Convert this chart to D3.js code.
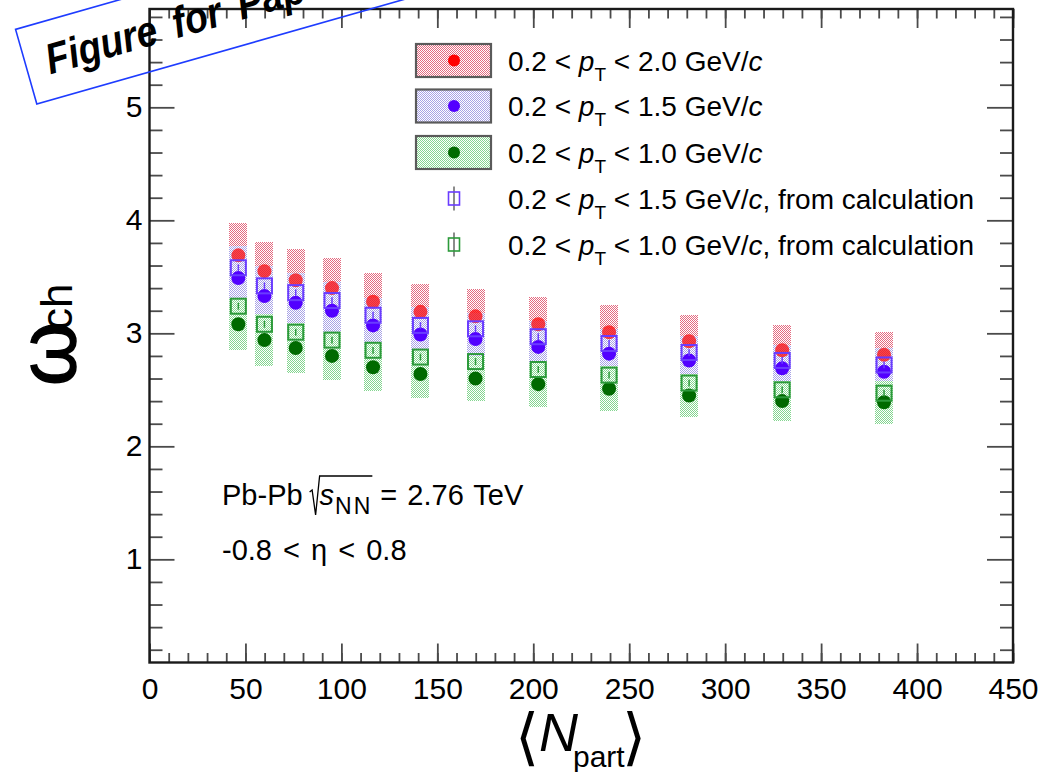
<!DOCTYPE html>
<html>
<head>
<meta charset="utf-8">
<script src="https://cdn.jsdelivr.net/npm/d3@7"></script>
<style>
  body { margin: 0; background: #fff; }
  svg { display: block; }
  text { font-family: "Liberation Sans", Arial, Helvetica, sans-serif; fill: #000; }
</style>
</head>
<body>
<svg id="chart" width="1042" height="772"></svg>
<script>
// <N_part> of the twelve 5%-wide centrality classes
const nPart = [46.3, 59.9, 76.2, 95.1, 116.5, 141.2, 169.9, 202.6, 239.5, 281.2, 329.7, 382.8];

// measured omega_ch with systematic uncertainties
const omega20 = [3.69, 3.55, 3.47, 3.40, 3.28, 3.19, 3.15, 3.08, 3.01, 2.93, 2.85, 2.81];
const sys20   = [0.29, 0.26, 0.28, 0.27, 0.25, 0.25, 0.24, 0.24, 0.24, 0.23, 0.22, 0.20];
const omega15 = [3.49, 3.33, 3.27, 3.20, 3.07, 2.99, 2.95, 2.88, 2.82, 2.76, 2.69, 2.66];
const sys15   = [0.28, 0.27, 0.26, 0.25, 0.24, 0.24, 0.23, 0.23, 0.22, 0.22, 0.21, 0.21];
const omega10 = [3.08, 2.94, 2.87, 2.80, 2.70, 2.64, 2.60, 2.55, 2.51, 2.45, 2.40, 2.39];
const sys10   = [0.23, 0.23, 0.22, 0.21, 0.21, 0.21, 0.20, 0.20, 0.20, 0.19, 0.18, 0.19];

// omega_ch obtained from calculation
const calc15    = [3.58, 3.42, 3.36, 3.29, 3.16, 3.07, 3.04, 2.97, 2.91, 2.83, 2.76, 2.72];
const calc15Err = [0.03, 0.03, 0.03, 0.03, 0.03, 0.03, 0.03, 0.03, 0.03, 0.03, 0.03, 0.03];
const calc10    = [3.24, 3.08, 3.01, 2.94, 2.85, 2.79, 2.75, 2.68, 2.63, 2.56, 2.50, 2.47];
const calc10Err = [0.03, 0.03, 0.03, 0.03, 0.03, 0.03, 0.03, 0.03, 0.03, 0.03, 0.03, 0.03];

// axis ticks
const xMajorTicks = [0, 50, 100, 150, 200, 250, 300, 350, 400, 450];
const xMinorTicks = d3.range(0, 451, 10);
const yMajorTicks = [1, 2, 3, 4, 5];
const yMinorTicks = [0.2, 0.4, 0.6, 0.8, 1.2, 1.4, 1.6, 1.8, 2.2, 2.4, 2.6, 2.8,
                     3.2, 3.4, 3.6, 3.8, 4.2, 4.4, 4.6, 4.8, 5.2, 5.4, 5.6, 5.8];

const svg = d3.select("#chart");
const frame = { left: 149.5, right: 1013, top: 9, bottom: 662.5 };

const x = d3.scaleLinear().domain([0, 450]).range([frame.left, frame.right]);
const y = d3.scaleLinear().domain([0.087, 5.87]).range([frame.bottom, frame.top]);

// stipple fill patterns for the systematic boxes
const defs = svg.append("defs");
function stipple(id, color) {
  const p = defs.append("pattern").attr("id", id)
    .attr("patternUnits", "userSpaceOnUse").attr("width", 2).attr("height", 2);
  p.append("rect").attr("x", 0).attr("y", 0).attr("width", 1).attr("height", 1).attr("fill", color);
  p.append("rect").attr("x", 1).attr("y", 1).attr("width", 1).attr("height", 1).attr("fill", color);
}
stipple("fillRed", "#e46a80");
stipple("fillBlue", "#a8a2e6");
stipple("fillGreen", "#84d690");

const colRed = "#ff0000", colBlue = "#5200ff", colGreen = "#006a00";
const colCalcBlue = "#6a3cff", colCalcGreen = "#2c9a3a";
const fontLabel = "Liberation Sans, Arial, sans-serif";

// ---- axes ----
const axG = svg.append("g").attr("class", "axes");
const tickStroke = "#4a4a4a";

function styleAxis(g) {
  g.select(".domain").remove();
  g.selectAll(".tick line").attr("stroke", tickStroke).attr("stroke-width", 1.8);
}

axG.append("g").attr("transform", `translate(0,${frame.bottom})`)
  .call(d3.axisBottom(x).tickValues(xMinorTicks).tickSize(-9.5).tickFormat(""))
  .call(styleAxis);
axG.append("g").attr("transform", `translate(0,${frame.bottom})`)
  .call(d3.axisBottom(x).tickValues(xMajorTicks).tickSize(-19).tickPadding(15).tickFormat(d3.format("d")))
  .call(styleAxis)
  .call(g => g.selectAll("text").attr("font-size", 30).attr("fill", "#000").attr("font-family", fontLabel));
axG.append("g").attr("transform", `translate(0,${frame.top})`)
  .call(d3.axisTop(x).tickValues(xMinorTicks).tickSize(-9.5).tickFormat(""))
  .call(styleAxis);
axG.append("g").attr("transform", `translate(0,${frame.top})`)
  .call(d3.axisTop(x).tickValues(xMajorTicks).tickSize(-19).tickFormat(""))
  .call(styleAxis);

axG.append("g").attr("transform", `translate(${frame.left},0)`)
  .call(d3.axisLeft(y).tickValues(yMinorTicks).tickSize(-13).tickFormat(""))
  .call(styleAxis);
axG.append("g").attr("transform", `translate(${frame.left},0)`)
  .call(d3.axisLeft(y).tickValues(yMajorTicks).tickSize(-25).tickPadding(7).tickFormat(d3.format("d")))
  .call(styleAxis)
  .call(g => g.selectAll("text").attr("font-size", 30).attr("fill", "#000").attr("font-family", fontLabel));
axG.append("g").attr("transform", `translate(${frame.right},0)`)
  .call(d3.axisRight(y).tickValues(yMinorTicks).tickSize(-13).tickFormat(""))
  .call(styleAxis);
axG.append("g").attr("transform", `translate(${frame.right},0)`)
  .call(d3.axisRight(y).tickValues(yMajorTicks).tickSize(-26).tickFormat(""))
  .call(styleAxis);

svg.append("rect")
  .attr("x", frame.left).attr("y", frame.top)
  .attr("width", frame.right - frame.left).attr("height", frame.bottom - frame.top)
  .attr("fill", "none").attr("stroke", "#1a1a1a").attr("stroke-width", 2.4);

// ---- data ----
const plot = svg.append("g");
const boxHalf = 9;     // half width of systematic boxes, px
const circR = 7;       // marker radius, px
const sqHalf = 7.5;    // half side of open squares, px

function sysBoxes(vals, errs, fillId) {
  plot.append("g").selectAll("rect").data(nPart).join("rect")
    .attr("x", d => x(d) - boxHalf)
    .attr("width", 2 * boxHalf)
    .attr("y", (d, i) => y(vals[i] + errs[i]))
    .attr("height", (d, i) => y(vals[i] - errs[i]) - y(vals[i] + errs[i]))
    .attr("fill", `url(#${fillId})`)
    .attr("shape-rendering", "crispEdges");
}
function circles(vals, color, opacity) {
  plot.append("g").attr("opacity", opacity).selectAll("circle").data(nPart).join("circle")
    .attr("cx", d => x(d)).attr("cy", (d, i) => y(vals[i]))
    .attr("r", circR).attr("fill", color);
}
function openSquares(vals, errs, color) {
  const g = plot.append("g");
  g.selectAll("line").data(nPart).join("line")
    .attr("x1", d => x(d)).attr("x2", d => x(d))
    .attr("y1", (d, i) => y(vals[i] + errs[i]))
    .attr("y2", (d, i) => y(vals[i] - errs[i]))
    .attr("stroke", color).attr("stroke-width", 1.5);
  g.selectAll("rect").data(nPart).join("rect")
    .attr("x", d => x(d) - sqHalf).attr("y", (d, i) => y(vals[i]) - sqHalf)
    .attr("width", 2 * sqHalf).attr("height", 2 * sqHalf)
    .attr("fill", "none").attr("stroke", color).attr("stroke-width", 2);
}

sysBoxes(omega20, sys20, "fillRed");
sysBoxes(omega15, sys15, "fillBlue");
circles(omega20, colRed, 0.72);
circles(omega15, colBlue, 1);
sysBoxes(omega10, sys10, "fillGreen");
circles(omega10, colGreen, 1);
openSquares(calc15, calc15Err, colCalcBlue);
openSquares(calc10, calc10Err, colCalcGreen);

// ---- legend ----
const leg = svg.append("g");
const legText = 28;
function ptLabel(g, xPos, yc, lo, hi, suffix) {
  const t = g.append("text").attr("x", xPos).attr("y", yc + 10).attr("font-size", legText);
  t.append("tspan").text(`${lo} < `);
  t.append("tspan").attr("font-style", "italic").text("p");
  t.append("tspan").attr("font-size", 19).attr("dy", 10).text("T");
  t.append("tspan").attr("dy", -10).text(` < ${hi} GeV/`);
  t.append("tspan").attr("font-style", "italic").text("c");
  if (suffix) t.append("tspan").text(suffix);
}
const legendRows = [
  { yc: 60.5,  kind: "box", fill: "fillRed",   color: colRed,   hi: "2.0" },
  { yc: 106,   kind: "box", fill: "fillBlue",  color: colBlue,  hi: "1.5" },
  { yc: 152.5, kind: "box", fill: "fillGreen", color: colGreen, hi: "1.0" },
  { yc: 198.5, kind: "sq",  color: colCalcBlue,  hi: "1.5", suffix: ", from calculation" },
  { yc: 244.5, kind: "sq",  color: colCalcGreen, hi: "1.0", suffix: ", from calculation" }
];
legendRows.forEach(r => {
  if (r.kind === "box") {
    leg.append("rect").attr("x", 416).attr("y", r.yc - 16.5).attr("width", 75).attr("height", 33)
      .attr("fill", `url(#${r.fill})`).attr("stroke", "#5a5a5a").attr("stroke-width", 2.2);
    leg.append("circle").attr("cx", 454).attr("cy", r.yc).attr("r", 6).attr("fill", r.color);
  } else {
    leg.append("line").attr("x1", 454).attr("x2", 454).attr("y1", r.yc - 12).attr("y2", r.yc + 12)
      .attr("stroke", "#666").attr("stroke-width", 1.5);
    leg.append("rect").attr("x", 448.5).attr("y", r.yc - 6.5).attr("width", 11).attr("height", 13)
      .attr("fill", "none").attr("stroke", r.color).attr("stroke-width", 1.6);
  }
  ptLabel(leg, 508, r.yc, "0.2", r.hi, r.suffix);
});

// ---- collision system annotation ----
const ann = svg.append("g");
const annSize = 29;
const base = 505, rootTop = 476;
const t1 = ann.append("text").attr("x", 222).attr("y", base).attr("font-size", annSize).text("Pb-Pb");
const rx = 222 + t1.node().getComputedTextLength() + 9;
const tS = ann.append("text").attr("x", rx + 8).attr("y", base).attr("font-size", annSize)
  .attr("font-style", "italic").text("s");
const tNN = ann.append("text").attr("x", rx + 8 + tS.node().getComputedTextLength() + 1)
  .attr("y", base + 9).attr("font-size", 23).attr("letter-spacing", 2).text("NN");
const afterNN = +tNN.attr("x") + tNN.node().getComputedTextLength();
ann.append("path")
  .attr("d", `M${rx - 2},${base - 13} L${rx + 0.5},${base - 15} L${rx + 4},${base + 10} L${rx + 8},${rootTop} L${afterNN},${rootTop}`)
  .attr("fill", "none").attr("stroke", "#000").attr("stroke-width", 1.3);
ann.append("text").attr("x", afterNN + 8).attr("y", base).attr("font-size", annSize)
  .attr("word-spacing", 2).text("= 2.76 TeV");
ann.append("text").attr("x", 222).attr("y", 560).attr("font-size", annSize)
  .attr("word-spacing", 3).text("-0.8 < η < 0.8");

// ---- axis titles ----
const xt = svg.append("g");
xt.append("text").attr("x", 515).attr("y", 758).attr("font-size", 62)
  .attr("font-family", "DejaVu Sans").attr("font-weight", 200).text("⟨");
xt.append("text").attr("x", 539).attr("y", 751).attr("font-size", 54)
  .attr("font-style", "italic").text("N");
xt.append("text").attr("x", 573).attr("y", 767).attr("font-size", 30).text("part");
xt.append("text").attr("x", 622).attr("y", 758).attr("font-size", 62)
  .attr("font-family", "DejaVu Sans").attr("font-weight", 200).text("⟩");

const yt = svg.append("g");
yt.append("text").attr("transform", "translate(75,386) rotate(-90)")
  .attr("font-size", 82).attr("stroke", "#000").attr("stroke-width", 1.5).text("ω");
yt.append("text").attr("transform", "translate(72,330) rotate(-90)")
  .attr("font-size", 44).text("ch");

// ---- stamp ----
const stamp = svg.append("g").attr("transform", "translate(26.2,66.7) rotate(-15.9)");
stamp.append("rect").attr("x", 0).attr("y", -38.8).attr("width", 560).attr("height", 77.6)
  .attr("fill", "none").attr("stroke", "#1e3cff").attr("stroke-width", 1.6);
stamp.append("text").attr("transform", "translate(21,14) scale(0.87,1)").attr("font-size", 43)
  .attr("font-family", "Open Sans, DejaVu Sans, sans-serif")
  .attr("font-weight", "bold").attr("font-style", "italic").attr("word-spacing", 8)
  .attr("fill", "#0a840a").text("Figure for Paper");
</script>
</body>
</html>
